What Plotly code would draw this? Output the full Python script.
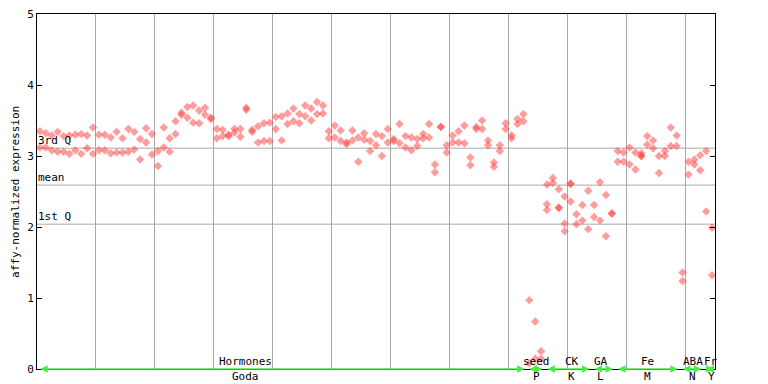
import plotly.graph_objects as go

# ---- data (sample index 0..114, two or three replicates each) ----
rep1 = [3.35, 3.32, 3.29, 3.34, 3.28, 3.29, 3.30, 3.31, 3.29, 3.40,
        3.30, 3.30, 3.26, 3.34, 3.25, 3.38, 3.34, 3.24, 3.39, 3.31,
        3.07, 3.40, 3.25, 3.49, 3.61, 3.69, 3.71, 3.64, 3.68, 3.54,
        3.38, 3.37, 3.30, 3.38, 3.38, 3.68, 3.37, 3.42, 3.46, 3.47,
        3.55, 3.56, 3.60, 3.67, 3.59, 3.71, 3.67, 3.76, 3.71, 3.35,
        3.43, 3.36, 3.19, 3.36, 3.26, 3.32, 3.21, 3.31, 3.28, 3.38,
        3.24, 3.45, 3.28, 3.26, 3.24, 3.31, 3.45, 2.88, 3.41, 3.15,
        3.29, 3.35, 3.43, 2.98, 3.41, 3.50, 3.22, 2.91, 3.15, 3.46,
        3.29, 3.52, 3.59, 0.97, 0.67, 0.25, 2.60, 2.69, 2.53, 2.43,
        2.61, 2.18, 2.31, 2.51, 2.31, 2.63, 2.45, 2.19, 3.07, 3.05,
        3.12, 3.05, 3.04, 3.28, 3.22, 3.00, 3.07, 3.40, 3.29, 1.36,
        2.92, 2.95, 3.01, 3.07, 1.99]
rep2 = [3.12, 3.12, 3.08, 3.06, 3.06, 3.03, 3.08, 3.03, 3.11, 3.03,
        3.08, 3.08, 3.04, 3.05, 3.05, 3.06, 3.09, 2.95, 3.19, 3.02,
        2.86, 3.12, 3.06, 3.31, 3.58, 3.54, 3.47, 3.46, 3.58, 3.52,
        3.25, 3.28, 3.28, 3.33, 3.27, 3.65, 3.34, 3.19, 3.21, 3.21,
        3.38, 3.22, 3.45, 3.49, 3.46, 3.56, 3.50, 3.59, 3.60, 3.25,
        3.26, 3.21, 3.17, 3.22, 2.92, 3.23, 3.07, 3.15, 3.00, 3.19,
        3.21, 3.18, 3.12, 3.08, 3.14, 3.25, 3.26, 2.77, 3.41, 3.05,
        3.19, 3.19, 3.18, 2.87, 3.38, 3.38, 3.15, 2.85, 3.07, 3.38,
        3.25, 3.45, 3.49, 0.08, 0.145, 0.145, 2.32, 2.62, 2.27, 2.05,
        2.36, 2.04, 2.09, 1.97, 2.14, 2.09, 1.87, 2.19, 2.92, 2.92,
        2.88, 2.81, 3.00, 3.16, 3.11, 2.76, 3.00, 3.14, 3.14, 1.24,
        2.74, 2.88, 2.80, 2.22, 1.32]
extra_idx = [86, 88, 89, 90, 102]
extra_val = [2.24, 2.27, 1.94, 2.61, 3.00]

q3_value = 3.11
mean_value = 2.59
q1_value = 2.04

group_names = ["Hormones", "seed", "CK", "GA", "Fe", "ABA", "Fr"]
group_codes = ["Goda", "P", "K", "L", "M", "N", "Y"]
group_start = [0, 83, 86, 94, 98, 109, 113]
group_end = [83, 86, 94, 98, 109, 113, 115]
label_center = [35.3, 84.7, 90.7, 95.6, 103.6, 111.2, 114.4]

n = len(rep1)
xs = [i + 0.5 for i in range(n)]

FONT = "DejaVu Sans Mono"
RED = "rgba(255,60,60,0.5)"
GREEN = "#44EE44"
GRID = "#A8A8A8"

fig = go.Figure()
marker = dict(symbol="diamond", size=6.5, color=RED, line=dict(width=0))
for ys, xx in ((rep1, xs), (rep2, xs), (extra_val, [i + 0.5 for i in extra_idx])):
    fig.add_trace(go.Scatter(x=xx, y=ys, mode="markers", marker=marker,
                             showlegend=False, hoverinfo="skip"))

# quartile / mean lines
for v, lab in ((q3_value, "3rd Q"), (mean_value, "mean"), (q1_value, "1st Q")):
    fig.add_shape(type="line", xref="paper", x0=0, x1=1, yref="y", y0=v, y1=v,
                  line=dict(color=GRID, width=1), layer="below")
    fig.add_annotation(xref="paper", x=0, xanchor="left", yref="y", y=v,
                       yanchor="bottom", text=lab, showarrow=False, xshift=-1,
                       yshift=-1, font=dict(family=FONT, size=11, color="black"))

# green group arrows and labels
for s, e, nm, cd, c in zip(group_start, group_end, group_names, group_codes, label_center):
    fig.add_annotation(x=e - 0.3, y=0, ax=s + 0.3, ay=0, xref="x", yref="y",
                       axref="x", ayref="y", text="", showarrow=True,
                       arrowside="end+start", arrowhead=2, arrowsize=1,
                       arrowwidth=1.5, arrowcolor=GREEN)
    fig.add_annotation(x=c, y=0, xref="x", yref="y", yanchor="bottom", text=nm,
                       showarrow=False, yshift=-1,
                       font=dict(family=FONT, size=11, color="black"))
    fig.add_annotation(x=c, y=0, xref="x", yref="paper", yanchor="top", text=cd,
                       showarrow=False, yshift=1,
                       font=dict(family=FONT, size=11, color="black"))

# y title
fig.add_annotation(xref="paper", yref="paper", x=-0.0428, xanchor="left", y=0.5,
                   textangle=-90, text="affy-normalized expression", showarrow=False,
                   borderpad=0, font=dict(family=FONT, size=11, color="black"))

fig.update_xaxes(range=[0, n], showgrid=True, gridcolor=GRID, gridwidth=1,
                 tick0=0, dtick=10, showticklabels=False, ticks="",
                 showline=True, linecolor="black", linewidth=1, mirror=True,
                 zeroline=False, automargin=False)
fig.update_yaxes(range=[0, 5], showgrid=False, tick0=0, dtick=1,
                 ticks="inside", ticklen=5, tickcolor="black",
                 showline=True, linecolor="black", linewidth=1, mirror="ticks",
                 zeroline=False, automargin=False, ticklabeloverflow="allow",
                 tickfont=dict(family=FONT, size=11, color="black"))

# the page adds an 8px body margin, so the figure margins are offset by it
fig.update_layout(width=768, height=384, margin=dict(l=29, r=61, t=6, b=23),
                  plot_bgcolor="white", paper_bgcolor="white",
                  font=dict(family=FONT, size=11, color="black"))

fig.write_html("out.html")
